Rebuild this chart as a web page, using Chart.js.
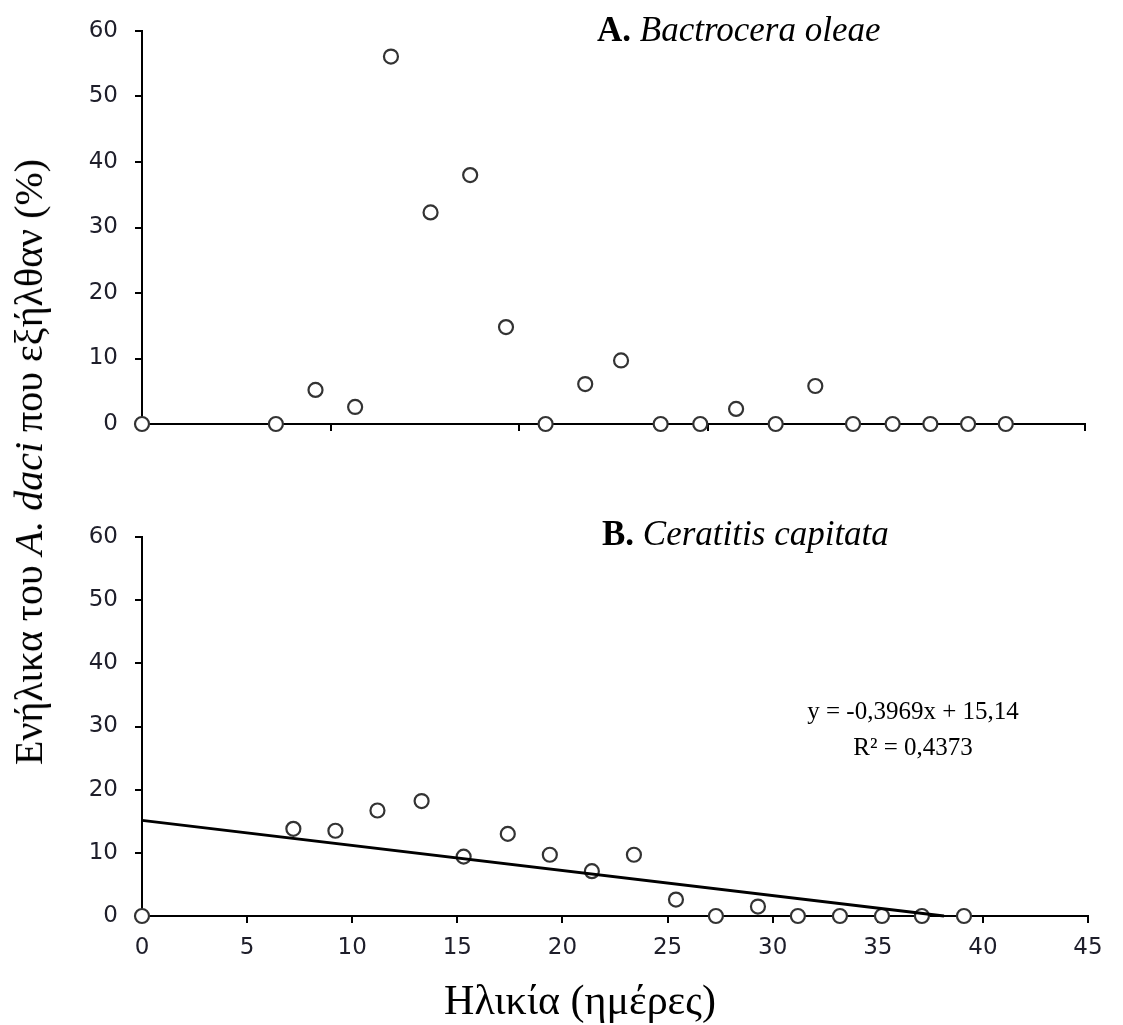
<!DOCTYPE html>
<html>
<head>
<meta charset="utf-8">
<script src="https://cdn.jsdelivr.net/npm/chart.js@4.4.0/dist/chart.umd.min.js"></script>
<style>
  html, body { margin: 0; padding: 0; background: #fff; }
  #wrap { position: relative; width: 1123px; height: 1025px; overflow: hidden; }
  canvas { position: absolute; left: 0; }
  .txt { position: absolute; font-family: "Liberation Serif", "Times New Roman", serif; color: #000; white-space: nowrap; line-height: 1; }
</style>
</head>
<body>
<div id="wrap">
  <canvas id="chartA" width="1123" height="480" style="top:0"></canvas>
  <canvas id="chartB" width="1123" height="555" style="top:470px"></canvas>

  <div class="txt" style="left:597px; top:12px; font-size:35px;"><b>A.</b> <i>Bactrocera oleae</i></div>
  <div class="txt" style="left:602px; top:516px; font-size:35px;"><b>B.</b> <i>Ceratitis capitata</i></div>
  <div class="txt" style="left:29px; top:462px; font-size:40px; transform: translate(-50%, -50%) rotate(-90deg);">Ενήλικα του <i>A. daci</i> που εξήλθαν (%)</div>
  <div class="txt" style="left:580px; top:1000px; font-size:42px; transform: translate(-50%, -50%);">Ηλικία (ημέρες)</div>
  <div class="txt" style="left:913px; top:693px; font-size:25px; transform: translateX(-50%); text-align:center; line-height:36px;">y = -0,3969x + 15,14<br>R² = 0,4373</div>
</div>

<script>
// Panel A - Bactrocera oleae (age in days, % emerged)
const ageA = [0, 7.1, 9.2, 11.3, 13.2, 15.3, 17.4, 19.3, 21.4, 23.5, 25.4, 27.5, 29.6, 31.5, 33.6, 35.7, 37.7, 39.8, 41.8, 43.8, 45.8];
const emergedA = [0, 0, 5.2, 2.6, 56.1, 32.3, 38.0, 14.8, 0, 6.1, 9.7, 0, 0, 2.3, 0, 5.8, 0, 0, 0, 0, 0];

// Panel B - Ceratitis capitata
const ageB = [0, 7.2, 9.2, 11.2, 13.3, 15.3, 17.4, 19.4, 21.4, 23.4, 25.4, 27.3, 29.3, 31.2, 33.2, 35.2, 37.1, 39.1];
const emergedB = [0, 13.8, 13.5, 16.7, 18.2, 9.4, 13.0, 9.7, 7.1, 9.7, 2.6, 0, 1.5, 0, 0, 0, 0, 0];

// linear trend line for panel B (end points)
const trendX = [0, 38.15];
const trendY = [15.14, 0];

const yTicks = [0, 10, 20, 30, 40, 50, 60];
const xTicksB = [0, 5, 10, 15, 20, 25, 30, 35, 40, 45];

const toPoints = (xs, ys) => xs.map((x, i) => ({ x, y: ys[i] }));

const tickFont = { family: 'DejaVu Sans', size: 23 };
const tickColor = '#1e1e2a';

function pointsDataset(xs, ys) {
  return {
    type: 'scatter',
    data: toPoints(xs, ys),
    pointStyle: 'circle',
    pointRadius: 7,
    pointBackgroundColor: '#ffffff',
    pointBorderColor: '#333333',
    pointBorderWidth: 2.2,
    showLine: false,
    clip: false,
    order: 1,
  };
}

function yScale() {
  return {
    type: 'linear',
    min: 0,
    max: 60,
    afterBuildTicks: (s) => { s.ticks = yTicks.map((v) => ({ value: v })); },
    ticks: { font: tickFont, color: tickColor, padding: 17 },
    grid: { drawOnChartArea: false, drawTicks: true, tickLength: 7, color: '#000', lineWidth: 2 },
    border: { display: true, color: '#000', width: 2 },
    afterFit: (s) => { s.width = 142; },
  };
}

// ---- Panel A ----
new Chart(document.getElementById('chartA').getContext('2d'), {
  type: 'scatter',
  data: { datasets: [pointsDataset(ageA, emergedA)] },
  options: {
    responsive: false,
    animation: false,
    layout: { padding: { top: 31, right: 38, left: 0, bottom: 0 } },
    plugins: { legend: { display: false }, tooltip: { enabled: false } },
    scales: {
      x: {
        type: 'linear',
        min: 0,
        max: 50,
        ticks: { stepSize: 10, callback: () => '' },
        grid: { drawOnChartArea: false, drawTicks: true, tickLength: 7, color: '#000', lineWidth: 2 },
        border: { display: true, color: '#000', width: 2 },
        afterFit: (s) => { s.height = 480 - 424; },
      },
      y: yScale(),
    },
  },
});

// ---- Panel B ----
new Chart(document.getElementById('chartB').getContext('2d'), {
  type: 'scatter',
  data: {
    datasets: [
      {
        type: 'line',
        data: toPoints(trendX, trendY),
        borderColor: '#000',
        borderWidth: 3,
        pointRadius: 0,
        fill: false,
        clip: false,
        order: 0,
      },
      pointsDataset(ageB, emergedB),
    ],
  },
  options: {
    responsive: false,
    animation: false,
    layout: { padding: { top: 67, right: 35, left: 0, bottom: 0 } },
    plugins: { legend: { display: false }, tooltip: { enabled: false } },
    scales: {
      x: {
        type: 'linear',
        min: 0,
        max: 45,
        afterBuildTicks: (s) => { s.ticks = xTicksB.map((v) => ({ value: v })); },
        ticks: { font: tickFont, color: tickColor, padding: 11, maxRotation: 0 },
        grid: { drawOnChartArea: false, drawTicks: true, tickLength: 7, color: '#000', lineWidth: 2 },
        border: { display: true, color: '#000', width: 2 },
        afterFit: (s) => { s.height = 555 - 446; },
      },
      y: yScale(),
    },
  },
});
</script>
</body>
</html>
